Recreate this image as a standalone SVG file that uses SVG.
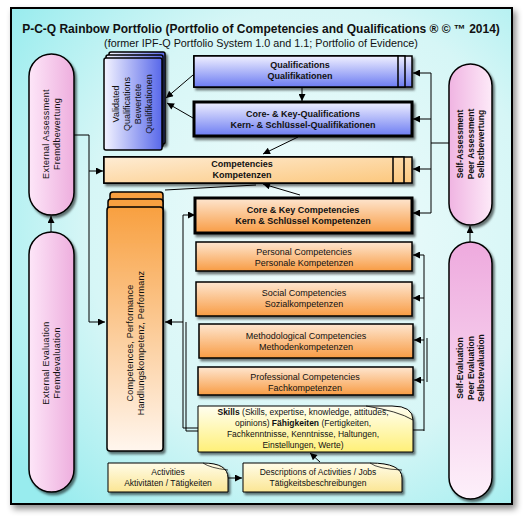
<svg xmlns="http://www.w3.org/2000/svg" width="523" height="522" viewBox="0 0 523 522">
<defs>
<radialGradient id="bg" cx="0.6" cy="0.45" r="0.75">
<stop offset="0" stop-color="#f2fcfc"/>
<stop offset="0.6" stop-color="#d6f6f6"/>
<stop offset="1" stop-color="#98ecee"/>
</radialGradient>
<linearGradient id="blueV" x1="0" y1="0" x2="0" y2="1">
<stop offset="0" stop-color="#f0f0ff"/>
<stop offset="1" stop-color="#6c7cf2"/>
</linearGradient>
<linearGradient id="blueH" x1="0" y1="0" x2="1" y2="0">
<stop offset="0" stop-color="#f4f4ff"/>
<stop offset="1" stop-color="#5868ea"/>
</linearGradient>
<linearGradient id="peach" x1="0" y1="0" x2="1" y2="1">
<stop offset="0" stop-color="#feecd4"/>
<stop offset="1" stop-color="#fcc87e"/>
</linearGradient>
<linearGradient id="orangeV" x1="0" y1="0" x2="0" y2="1">
<stop offset="0" stop-color="#fee6d0"/>
<stop offset="1" stop-color="#f89c44"/>
</linearGradient>
<linearGradient id="tall" x1="0" y1="0" x2="0" y2="1">
<stop offset="0" stop-color="#f8a040"/>
<stop offset="1" stop-color="#fff6ee"/>
</linearGradient>
<linearGradient id="yellow" x1="0" y1="0" x2="0" y2="1">
<stop offset="0" stop-color="#fffef0"/>
<stop offset="1" stop-color="#fff078"/>
</linearGradient>
<linearGradient id="yellow2" x1="0" y1="0" x2="0" y2="1">
<stop offset="0" stop-color="#fffce8"/>
<stop offset="1" stop-color="#fbe694"/>
</linearGradient>
<linearGradient id="pinkR" x1="0" y1="0" x2="1" y2="0">
<stop offset="0" stop-color="#fde6f8"/>
<stop offset="1" stop-color="#eeaede"/>
</linearGradient>
<linearGradient id="pinkL" x1="0" y1="0" x2="1" y2="0">
<stop offset="0" stop-color="#f0b4e2"/>
<stop offset="1" stop-color="#fdeaf8"/>
</linearGradient>
<linearGradient id="pinkV" x1="0" y1="0" x2="0" y2="1">
<stop offset="0" stop-color="#eeaade"/>
<stop offset="1" stop-color="#fdf0fa"/>
</linearGradient>
<filter id="sh" x="-20%" y="-20%" width="140%" height="140%">
<feDropShadow dx="2" dy="2.5" stdDeviation="1.2" flood-color="#000" flood-opacity="0.55"/>
</filter>
<filter id="fsh" x="-5%" y="-5%" width="112%" height="112%">
<feDropShadow dx="3" dy="4" stdDeviation="3" flood-color="#000" flood-opacity="0.45"/>
</filter>
<marker id="ah" viewBox="0 0 10 10" refX="10" refY="5" markerWidth="9" markerHeight="7" markerUnits="userSpaceOnUse" orient="auto">
<path d="M0,0 L10,5 L0,10 Z" fill="#000"/>
</marker>
</defs>
<style>
text{font-family:"Liberation Sans",Arial,sans-serif;fill:#111;text-anchor:middle}
.b{font-weight:bold}
.box{stroke:#000;stroke-width:1.5}
.thick{stroke:#000;stroke-width:3}
.con{fill:none;stroke:#000;stroke-width:1}
.t9{font-size:9px}
.t85{font-size:8.5px}
</style>

<g id="frame">
<rect x="11" y="8" width="501" height="496" fill="url(#bg)" stroke="#000" stroke-width="2" filter="url(#fsh)"/>
</g>

<g id="title">
<text x="261" y="33" class="b" font-size="12">P-C-Q Rainbow Portfolio (Portfolio of Competencies and Qualifications ® © ™ 2014)</text>
<text x="261" y="47" font-size="10.8">(former IPF-Q Portfolio System 1.0 and 1.1; Portfolio of Evidence)</text>
</g>

<g id="connectors">
<line class="con" x1="193" y1="75" x2="166" y2="98" marker-end="url(#ah)"/>
<line class="con" x1="193" y1="118" x2="167" y2="103" marker-end="url(#ah)"/>
<line class="con" x1="302" y1="78" x2="302" y2="101" marker-end="url(#ah)"/>
<line class="con" x1="298" y1="137" x2="263" y2="154" marker-end="url(#ah)"/>
<line class="con" x1="300" y1="195" x2="263" y2="184" marker-end="url(#ah)"/>
<line class="con" x1="165" y1="190" x2="256" y2="185"/>
<path class="con" d="M74,135 H89 V322 H105" marker-end="url(#ah)"/>
<path class="con" d="M89,171 H103" marker-end="url(#ah)"/>
<path class="con" d="M449,143 H431"/>
<path class="con" d="M431,73 V213"/>
<path class="con" d="M431,73 H413" marker-end="url(#ah)"/>
<path class="con" d="M431,119 H413" marker-end="url(#ah)"/>
<path class="con" d="M431,169 H413" marker-end="url(#ah)"/>
<path class="con" d="M431,213 H413" marker-end="url(#ah)"/>
<path class="con" d="M51,232 V216" marker-end="url(#ah)"/>
<path class="con" d="M470,242 V226" marker-end="url(#ah)"/>
<path class="con" d="M413,430 H424" stroke-width="2.5"/>
<path class="con" d="M424,431 V255"/>
<path class="con" d="M427,338 V382"/>
<path class="con" d="M424,255 H413" marker-end="url(#ah)"/>
<path class="con" d="M424,298 H413" marker-end="url(#ah)"/>
<path class="con" d="M424,340 H414" marker-end="url(#ah)"/>
<path class="con" d="M424,380 H414" marker-end="url(#ah)"/>
<path class="con" d="M198,428 H183 V215 H195" marker-end="url(#ah)"/>
<path class="con" d="M198,431 H186 V322"/>
<path class="con" d="M183,322 H165" marker-end="url(#ah)"/>
<line class="con" x1="320" y1="462" x2="310" y2="453" marker-end="url(#ah)"/>
<line class="con" x1="228" y1="478" x2="242" y2="478" marker-end="url(#ah)"/>
</g>

<g id="external-assessment">
<rect x="29" y="54" width="45" height="161" rx="22.5" fill="url(#pinkR)" class="box" stroke-width="1.2" filter="url(#sh)"/>
<g transform="translate(51,134) rotate(-90)">
<text class="t9" y="-2" letter-spacing="0.3">External Assessment</text>
<text class="t9" y="9" letter-spacing="0.3">Fremdbewertung</text>
</g>
</g>

<g id="external-evaluation">
<rect x="29" y="232" width="45" height="260" rx="22.5" fill="url(#pinkR)" class="box" stroke-width="1.2" filter="url(#sh)"/>
<g transform="translate(51,363) rotate(-90)">
<text class="t9" y="-2" letter-spacing="0.3">External Evaluation</text>
<text class="t9" y="9" letter-spacing="0.3">Fremdevaluation</text>
</g>
</g>

<g id="self-assessment">
<rect x="449" y="64" width="43" height="161" rx="21.5" fill="url(#pinkL)" class="box" stroke-width="1.2" filter="url(#sh)"/>
<g transform="translate(470,144) rotate(-90)">
<text class="t85 b" y="-7">Self-Assessment</text>
<text class="t85 b" y="3.5">Peer Assessment</text>
<text class="t85 b" y="14">Selbstbewertung</text>
</g>
</g>

<g id="self-evaluation">
<rect x="449" y="242" width="43" height="257" rx="21.5" fill="url(#pinkV)" class="box" stroke-width="1.2" filter="url(#sh)"/>
<g transform="translate(470,368) rotate(-90)">
<text class="t85 b" y="-7">Self-Evaluation</text>
<text class="t85 b" y="3.5">Peer Evaluation</text>
<text class="t85 b" y="14">Selbstevaluation</text>
</g>
</g>

<g id="validated-qualifications">
<rect x="109" y="52" width="56" height="92" rx="2" fill="url(#blueH)" class="box" filter="url(#sh)"/>
<rect x="106" y="55" width="57" height="92" rx="2" fill="url(#blueH)" class="box"/>
<rect x="104" y="58" width="58" height="92" rx="2" fill="url(#blueH)" class="box"/>
<g transform="translate(133,104) rotate(-90)">
<text class="t9" y="-14.5">Validated</text>
<text class="t9" y="-3.5">Qualifications</text>
<text class="t9" y="7.5">Bewertete</text>
<text class="t9" y="18.5">Qualifikationen</text>
</g>
</g>

<g id="qualifications">
<rect x="194" y="56" width="218" height="31" fill="url(#blueV)" class="box" stroke-width="2" filter="url(#sh)"/>
<rect x="194" y="56" width="211" height="31" fill="url(#blueV)" class="box" stroke-width="2"/>
<rect x="194" y="56" width="204" height="31" fill="url(#blueV)" class="box" stroke-width="2"/>
<text class="t9 b" x="300" y="68">Qualifications</text>
<text class="t9 b" x="300" y="79">Qualifikationen</text>
</g>

<g id="core-key-qualifications">
<rect x="194" y="102" width="218" height="34" fill="url(#blueV)" class="thick" stroke-width="2.5" filter="url(#sh)"/>
<text class="t9 b" x="303" y="117">Core- &amp; Key-Qualifications</text>
<text class="t9 b" x="303" y="128">Kern- &amp; Schlüssel-Qualifikationen</text>
</g>

<g id="competencies">
<rect x="104" y="157" width="308" height="26" fill="url(#peach)" class="box" stroke-width="2.2" filter="url(#sh)"/>
<rect x="104" y="157" width="300" height="26" fill="url(#peach)" class="box" stroke-width="2.2"/>
<rect x="104" y="157" width="289" height="26" fill="url(#peach)" class="box" stroke-width="2.2"/>
<text class="t9 b" x="242" y="167">Competencies</text>
<text class="t9 b" x="242" y="178">Kompetenzen</text>
</g>

<g id="core-key-competencies">
<rect x="195" y="198" width="217" height="35" fill="url(#orangeV)" class="thick" filter="url(#sh)"/>
<text class="t9 b" x="303" y="213">Core &amp; Key Competencies</text>
<text class="t9 b" x="303" y="224">Kern &amp; Schlüssel Kompetenzen</text>
</g>

<g id="personal-competencies">
<rect x="196" y="242" width="216" height="29" fill="url(#orangeV)" class="box" stroke-width="1" filter="url(#sh)"/>
<text class="t9" x="304" y="255">Personal Competencies</text>
<text class="t9" x="304" y="266">Personale Kompetenzen</text>
</g>

<g id="social-competencies">
<rect x="196" y="282" width="216" height="34" fill="url(#orangeV)" class="box" stroke-width="1" filter="url(#sh)"/>
<text class="t9" x="304" y="296">Social Competencies</text>
<text class="t9" x="304" y="307">Sozialkompetenzen</text>
</g>

<g id="methodological-competencies">
<rect x="199" y="324" width="214" height="34" fill="url(#orangeV)" class="box" stroke-width="1" filter="url(#sh)"/>
<text class="t9" x="306" y="339">Methodological Competencies</text>
<text class="t9" x="306" y="350">Methodenkompetenzen</text>
</g>

<g id="professional-competencies">
<rect x="198" y="367" width="215" height="28" fill="url(#orangeV)" class="box" stroke-width="1" filter="url(#sh)"/>
<text class="t9" x="305" y="380">Professional Competencies</text>
<text class="t9" x="305" y="391">Fachkompetenzen</text>
</g>

<g id="skills">
<path d="M198,406 H392 Q413,406 413,420 V452 H198 Z" fill="url(#yellow)" stroke="#000" stroke-width="1" filter="url(#sh)"/>
<path d="M366,406 Q398,411 413,420" fill="none" stroke="#000" stroke-width="0.8"/>
<text class="t85" x="303" y="415"><tspan class="b">Skills</tspan> (Skills, expertise, knowledge, attitudes,</text>
<text class="t85" x="303" y="426">opinions) <tspan class="b">Fähigkeiten</tspan> (Fertigkeiten,</text>
<text class="t85" x="303" y="437">Fachkenntnisse, Kenntnisse, Haltungen,</text>
<text class="t85" x="303" y="448">Einstellungen, Werte)</text>
</g>

<g id="competences-performance">
<rect x="110" y="192" width="53" height="250" rx="3" fill="#f8a040" class="box" stroke-width="1.8"/>
<rect x="108" y="199" width="55" height="250" rx="3" fill="#f8a040" class="box" stroke-width="1.8"/>
<rect x="107" y="207" width="56" height="244" rx="3" fill="url(#tall)" class="box" stroke-width="1.8" filter="url(#sh)"/>
<g transform="translate(135,343) rotate(-90)">
<text class="t9" y="-2" letter-spacing="0.2">Competences, Performance</text>
<text class="t9" y="9" letter-spacing="0.2">Handlungskompetenz, Performanz</text>
</g>
</g>

<g id="activities">
<path d="M108,463 H203 Q228,463 228,478 V492 H108 Z" fill="url(#yellow2)" stroke="#000" stroke-width="1" filter="url(#sh)"/>
<path d="M203,463 Q210,468 228,470" fill="none" stroke="#000" stroke-width="0.7"/>
<text class="t85" x="168" y="475">Activities</text>
<text class="t85" x="168" y="486">Aktivitäten / Tätigkeiten</text>
</g>

<g id="descriptions">
<path d="M243,463 H370 Q402,463 402,478 V492 H243 Z" fill="url(#yellow2)" stroke="#000" stroke-width="1" filter="url(#sh)"/>
<path d="M370,463 Q378,469 402,470" fill="none" stroke="#000" stroke-width="0.7"/>
<text class="t85" x="318" y="475">Descriptions of Activities / Jobs</text>
<text class="t85" x="318" y="486">Tätigkeitsbeschreibungen</text>
</g>
</svg>
